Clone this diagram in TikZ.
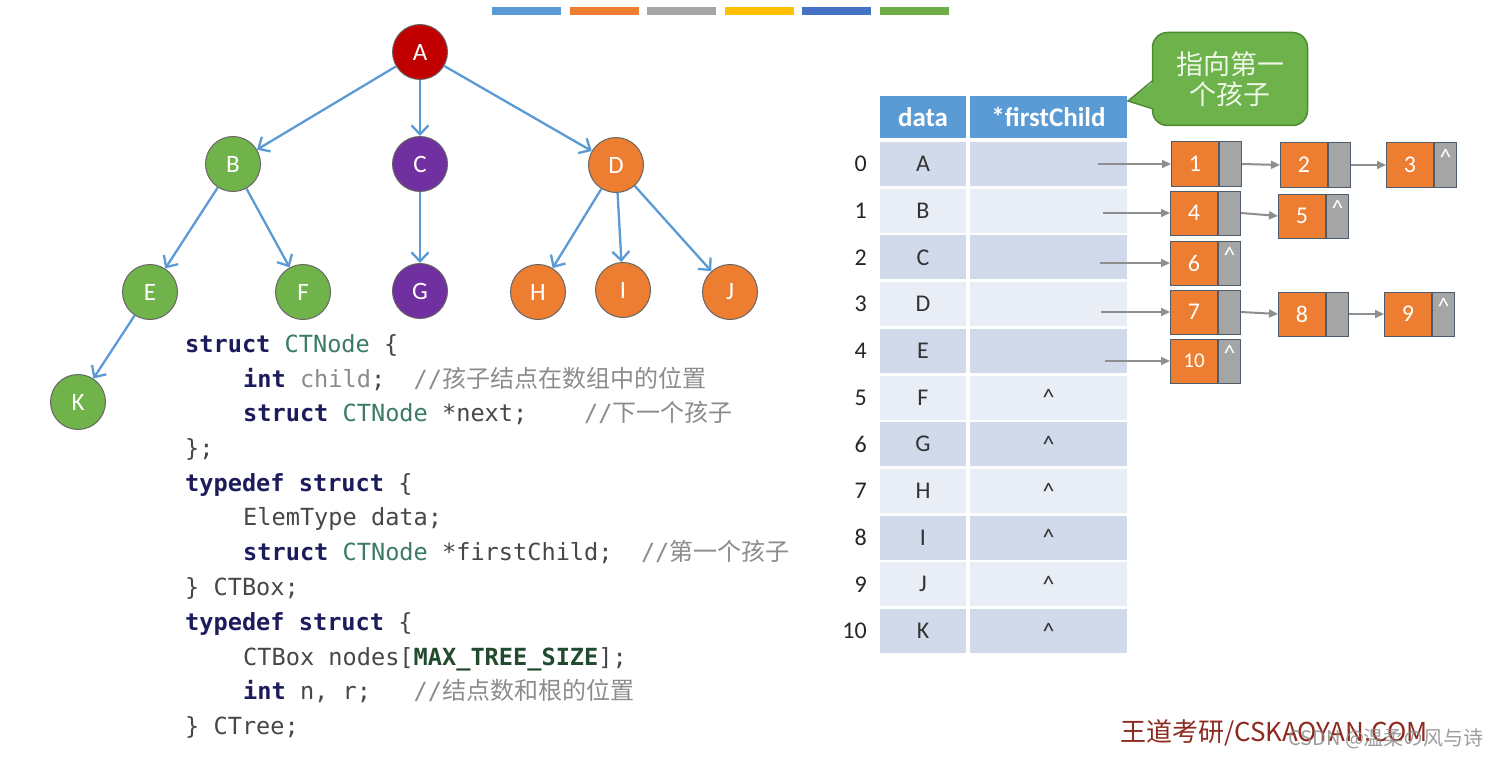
\documentclass[tikz,border=0pt]{standalone}
\usepackage{fontspec}
\setsansfont{Carlito}
\setmonofont{DejaVu Sans Mono}
\newfontfamily\cjk{Noto Sans CJK SC}
\usetikzlibrary{arrows.meta,positioning}

\definecolor{edgeblue}{HTML}{5B9BD5}
\definecolor{nred}{HTML}{C00000}
\definecolor{ngreen}{HTML}{70B34A}
\definecolor{npurple}{HTML}{7030A0}
\definecolor{norange}{HTML}{ED7D31}
\definecolor{barA}{HTML}{5B9BD5}
\definecolor{barB}{HTML}{ED7D31}
\definecolor{barC}{HTML}{A5A5A5}
\definecolor{barD}{HTML}{FFC000}
\definecolor{barE}{HTML}{4472C4}
\definecolor{barF}{HTML}{70AD47}
\definecolor{headblue}{HTML}{5B9BD5}
\definecolor{rowdark}{HTML}{D0DAEA}
\definecolor{rowlight}{HTML}{E9EEF6}
\definecolor{lgray}{HTML}{A5A5A5}
\definecolor{lborder}{HTML}{4E5C6C}
\definecolor{ptrgray}{HTML}{8E8E8E}
\definecolor{cgreen}{HTML}{6DB24A}
\definecolor{cgreendark}{HTML}{4F8A33}
\definecolor{ctext}{HTML}{EEF7E8}
\definecolor{kwnavy}{HTML}{1C1C5C}
\definecolor{tyteal}{HTML}{3C7A68}
\definecolor{codedark}{HTML}{474747}
\definecolor{idgray}{HTML}{8A8A8A}
\definecolor{cmgray}{HTML}{8C8C8C}
\definecolor{mcgreen}{HTML}{214A2E}
\definecolor{wdred}{HTML}{8E2B20}

\newcommand\treefont{\sffamily\fontsize{25}{28}\selectfont}
\newcommand\tabfont{\sffamily\fontsize{24}{28}\selectfont}
\newcommand\headfont{\sffamily\bfseries\fontsize{27}{30}\selectfont}
\newcommand\codefont{\ttfamily\fontsize{23.6}{28}\selectfont}
\newcommand\kw[1]{{\bfseries\color{kwnavy}#1}}
\newcommand\ty[1]{{\color{tyteal}#1}}
\newcommand\cm[1]{{\color{cmgray}//{\cjk\fontsize{24}{28}\selectfont #1}}}
\newcommand\mc[1]{{\bfseries\color{mcgreen}#1}}

\tikzset{
  tnode/.style={circle, minimum size=55pt, inner sep=0pt, draw=black!60,
    line width=1pt, text=white, font=\treefont},
  edge/.style={draw=edgeblue, line width=2.3pt,
    -{Straight Barb[length=9pt,width=17pt]}},
  code/.style={anchor=base west, inner sep=0pt, font=\codefont, text=codedark},
  cell/.style={rectangle, minimum height=44pt, inner sep=0pt, font=\tabfont,
    text=black!80},
  head/.style={rectangle, fill=headblue, minimum height=42pt, inner sep=0pt,
    font=\headfont, text=white},
  idx/.style={anchor=east, inner sep=0pt, font=\tabfont, text=black!85},
  valbox/.style={rectangle, fill=norange, draw=lborder, line width=1pt,
    minimum width=47pt, minimum height=44pt, inner sep=0pt, text=white,
    font=\tabfont},
  ptrbox/.style={rectangle, fill=lgray, draw=lborder, line width=1pt,
    minimum width=22pt, minimum height=44pt, inner sep=0pt, text=white,
    font=\tabfont},
  ptr/.style={draw=ptrgray, line width=2pt, -{Triangle[length=9pt,width=8pt]}}
}

% list node: value box + pointer box
\newcommand\lnode[5]{%
  \node[valbox] (v#1) at (#2,#3) {#4};
  \node[ptrbox, right=0pt of v#1] (q#1) {#5};}

\begin{document}
\begin{tikzpicture}[x=1pt,y=-1pt]
  \fill[white] (0,0) rectangle (1494,757);
  \useasboundingbox (0,0) rectangle (1494,757);

  % colour bar
  \foreach \c [count=\k] in {barA,barB,barC,barD,barE,barF}
    \fill[\c] (492+77.6*\k-77.6,7) rectangle ++(69,8);

  % tree
  \node[tnode, fill=nred]    (nA) at (420,52)  {A};
  \node[tnode, fill=ngreen]  (nB) at (233,164) {B};
  \node[tnode, fill=npurple] (nC) at (420,164) {C};
  \node[tnode, fill=norange] (nD) at (616,165) {D};
  \node[tnode, fill=ngreen]  (nE) at (150,292) {E};
  \node[tnode, fill=ngreen]  (nF) at (303,292) {F};
  \node[tnode, fill=npurple] (nG) at (420,291) {G};
  \node[tnode, fill=norange] (nH) at (538,292) {H};
  \node[tnode, fill=norange] (nI) at (623,290) {I};
  \node[tnode, fill=norange] (nJ) at (730,292) {J};
  \node[tnode, fill=ngreen]  (nK) at (78,402)  {K};
  \foreach \a/\b in {nA/nB,nA/nC,nA/nD,nB/nE,nB/nF,nC/nG,nD/nH,nD/nI,nD/nJ,nE/nK}
    \draw[edge] (\a) -- (\b);

  % code
  \node[code] (c1)  at (185,352) {\kw{struct} \ty{CTNode} \{};
  \node[code] (c2)  at (243,387) {\kw{int} {\color{idgray}child};\ \ \cm{孩子结点在数组中的位置}};
  \node[code] (c3)  at (243,421) {\kw{struct} \ty{CTNode} *next;\ \ \ \ \cm{下一个孩子}};
  \node[code] (c4)  at (185,456) {\};};
  \node[code] (c5)  at (185,491) {\kw{typedef} \kw{struct} \{};
  \node[code] (c6)  at (243,525) {ElemType data;};
  \node[code] (c7)  at (243,560) {\kw{struct} \ty{CTNode} *firstChild;\ \ \cm{第一个孩子}};
  \node[code] (c8)  at (185,595) {\} CTBox;};
  \node[code] (c9)  at (185,630) {\kw{typedef} \kw{struct} \{};
  \node[code] (c10) at (243,665) {CTBox nodes[\mc{MAX\_TREE\_SIZE}];};
  \node[code] (c11) at (243,699) {\kw{int} n, r;\ \ \ \cm{结点数和根的位置}};
  \node[code] (c12) at (185,734) {\} CTree;};

  % table
  \node[head, minimum width=86pt]  (hd) at (923,117)    {data};
  \node[head, minimum width=157pt] (hf) at (1048.5,117) {*firstChild};
  \foreach \i/\ch in {0/A,1/B,2/C,3/D,4/E,5/F,6/G,7/H,8/I,9/J,10/K}{
    \ifodd\i\relax \def\rowfill{rowlight}\else \def\rowfill{rowdark}\fi
    \node[cell, fill=\rowfill, minimum width=86pt]  (d\i) at (923,164+46.7*\i) {\ch};
    \node[cell, fill=\rowfill, minimum width=157pt] (f\i) at (1048.5,164+46.7*\i)
      {\ifnum\i>4 \textasciicircum\fi};
    \node[idx] (i\i) at (867,164+46.7*\i) {\i};
  }

  % child lists
  \lnode{1}{1195}{164}{1}{}
  \lnode{2}{1304}{165}{2}{}
  \lnode{3}{1410}{165}{3}{\smash{\textasciicircum}}
  \lnode{4}{1194}{213}{4}{}
  \lnode{5}{1302}{216}{5}{\smash{\textasciicircum}}
  \lnode{6}{1194}{263}{6}{\smash{\textasciicircum}}
  \lnode{7}{1194}{312}{7}{}
  \lnode{8}{1302}{314}{8}{}
  \lnode{9}{1408}{314}{9}{\smash{\textasciicircum}}
  \lnode{10}{1194}{361}{\fontsize{21}{24}\selectfont 10}{\smash{\textasciicircum}}
  \coordinate (s0) at (1098,164);
  \coordinate (s1) at (1103,213);
  \coordinate (s2) at (1100,263);
  \coordinate (s3) at (1101,312);
  \coordinate (s4) at (1105,361);
  \draw[ptr] (s0) -- (v1.west);
  \draw[ptr] (s1) -- (v4.west);
  \draw[ptr] (s2) -- (v6.west);
  \draw[ptr] (s3) -- (v7.west);
  \draw[ptr] (s4) -- (v10.west);
  \draw[ptr] (q1.east) -- (v2.west);
  \draw[ptr] (q2.east) -- (v3.west);
  \draw[ptr] (q4.east) -- (v5.west);
  \draw[ptr] (q7.east) -- (v8.west);
  \draw[ptr] (q8.east) -- (v9.west);

  % callout
  \node[rectangle, rounded corners=15pt, fill=cgreen, draw=cgreendark,
    line width=1.5pt, minimum width=155pt, minimum height=93pt, align=center,
    text=ctext, font={\cjk\fontsize{27}{30}\selectfont}] (tip) at (1230,79)
    {指向第一\\个孩子};
  \coordinate (ctip) at (1128,101);
  \fill[cgreen] (1156,80) -- (ctip) -- (1156,109) -- cycle;
  \draw[cgreendark, line width=1.5pt] (1153.5,80) -- (ctip) -- (1153.5,109);

  % watermarks
  \node[anchor=west, inner sep=0pt, text=wdred,
    font={\cjk\fontsize{26}{28}\selectfont}] (wd) at (1120,733) {王道考研/CSKAOYAN.COM};
  \node[anchor=west, inner sep=0pt, text=black!45, opacity=0.85,
    font={\cjk\fontsize{20}{24}\selectfont}] (wm) at (1288,739) {CSDN @温柔の风与诗};
\end{tikzpicture}
\end{document}
